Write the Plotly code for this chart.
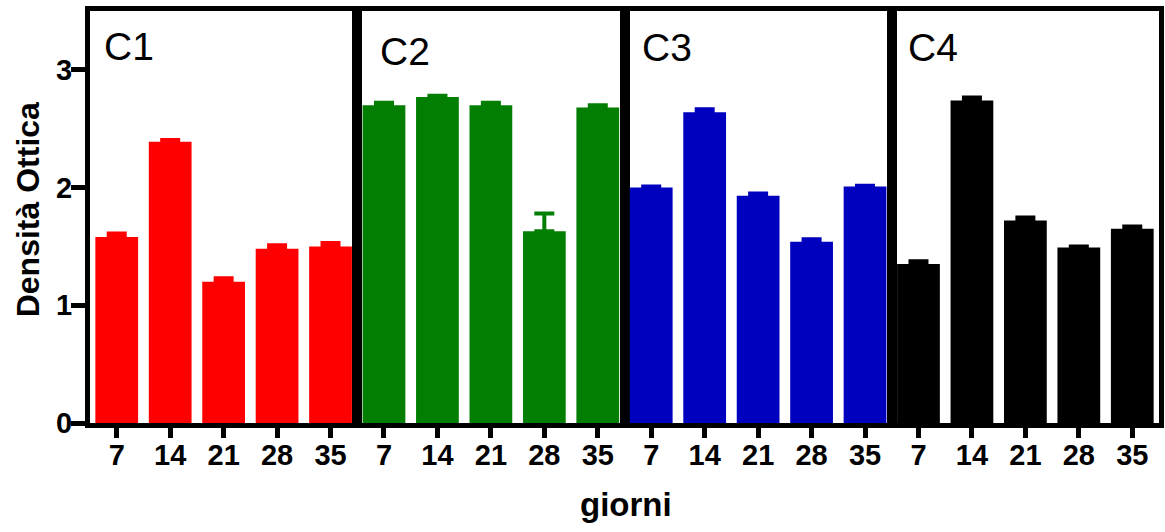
import plotly.graph_objects as go
from plotly.subplots import make_subplots

days = ["7", "14", "21", "28", "35"]
panels = ["C1", "C2", "C3", "C4"]
colors = ["#FF0000", "#027F02", "#0000BF", "#000000"]

c1_vals = [1.58, 2.39, 1.20, 1.48, 1.50]
c1_err = [0.03, 0.015, 0.03, 0.03, 0.03]
c2_vals = [2.70, 2.77, 2.70, 1.63, 2.68]
c2_err = [0.02, 0.01, 0.02, 0.15, 0.02]
c3_vals = [2.00, 2.64, 1.93, 1.54, 2.01]
c3_err = [0.01, 0.025, 0.02, 0.02, 0.005]
c4_vals = [1.35, 2.74, 1.72, 1.49, 1.65]
c4_err = [0.025, 0.025, 0.025, 0.01, 0.02]

values = [c1_vals, c2_vals, c3_vals, c4_vals]
errors = [c1_err, c2_err, c3_err, c4_err]

y_ticks = [0, 1, 2, 3]
y_title = "Densità Ottica"
x_title = "giorni"

FONT = "Arial, Liberation Sans, sans-serif"
W, H = 1165, 532
ML, MR, MT, MB = 90, 1, 11, 109

fig = make_subplots(rows=1, cols=4, shared_yaxes=True, horizontal_spacing=0)

for i in range(4):
    fig.add_trace(
        go.Bar(
            x=days,
            y=values[i],
            marker=dict(color=colors[i], line=dict(width=0)),
            error_y=dict(
                type="data",
                array=errors[i],
                arrayminus=[0] * len(errors[i]),
                symmetric=False,
                thickness=4,
                width=10,
                color=colors[i],
            ),
            showlegend=False,
            hoverinfo="skip",
        ),
        row=1,
        col=i + 1,
    )

for i in range(4):
    fig.update_xaxes(
        type="category",
        range=[-0.5, 4.5],
        showline=True,
        linecolor="black",
        linewidth=5,
        mirror=True,
        ticks="outside",
        ticklen=10,
        tickwidth=5,
        tickcolor="black",
        ticklabelstandoff=-8,
        tickfont=dict(family=FONT, size=29, color="black", weight="bold"),
        showgrid=False,
        zeroline=False,
        row=1,
        col=i + 1,
    )
    fig.update_yaxes(
        range=[0, 3.5],
        showline=True,
        linecolor="black",
        linewidth=5,
        mirror=True,
        showgrid=False,
        zeroline=False,
        row=1,
        col=i + 1,
    )

fig.update_yaxes(
    tickvals=y_ticks,
    ticks="outside",
    ticklen=14,
    tickwidth=5,
    tickcolor="black",
    ticklabelstandoff=-7,
    tickfont=dict(family=FONT, size=29, color="black", weight="bold"),
    row=1,
    col=1,
)
for c in (2, 3, 4):
    fig.update_yaxes(showticklabels=False, ticks="", row=1, col=c)

plot_h = H - MT - MB
plot_w = W - ML - MR


def py(px):
    return (H - MB - px) / plot_h


def px_x(px):
    return (px - ML) / plot_w


label_x = [-0.27, -0.12, -0.21, -0.24]
label_y = [3.20, 3.16, 3.19, 3.19]
annotations = []
for i in range(4):
    annotations.append(
        dict(
            text=panels[i],
            xref="x" if i == 0 else f"x{i+1}",
            yref="y",
            x=label_x[i],
            y=label_y[i],
            xanchor="left",
            yanchor="middle",
            showarrow=False,
            font=dict(family=FONT, size=39, color="black"),
        )
    )

annotations.append(
    dict(
        text=y_title,
        xref="paper",
        yref="paper",
        x=px_x(28),
        y=py(210),
        xanchor="center",
        yanchor="middle",
        textangle=-90,
        showarrow=False,
        font=dict(family=FONT, size=32, color="black", weight="bold"),
    )
)
annotations.append(
    dict(
        text=x_title,
        xref="paper",
        yref="paper",
        x=px_x(629),
        y=py(505),
        xanchor="center",
        yanchor="middle",
        showarrow=False,
        font=dict(family=FONT, size=33, color="black", weight="bold"),
    )
)

fig.update_layout(
    width=W,
    height=H,
    margin=dict(l=ML, r=MR, t=MT, b=MB, pad=0),
    paper_bgcolor="white",
    plot_bgcolor="white",
    bargap=0.2,
    annotations=annotations,
)

fig.write_html(
    "out.html",
    config={"displayModeBar": False},
    post_script="document.body.style.margin='0px';",
)
